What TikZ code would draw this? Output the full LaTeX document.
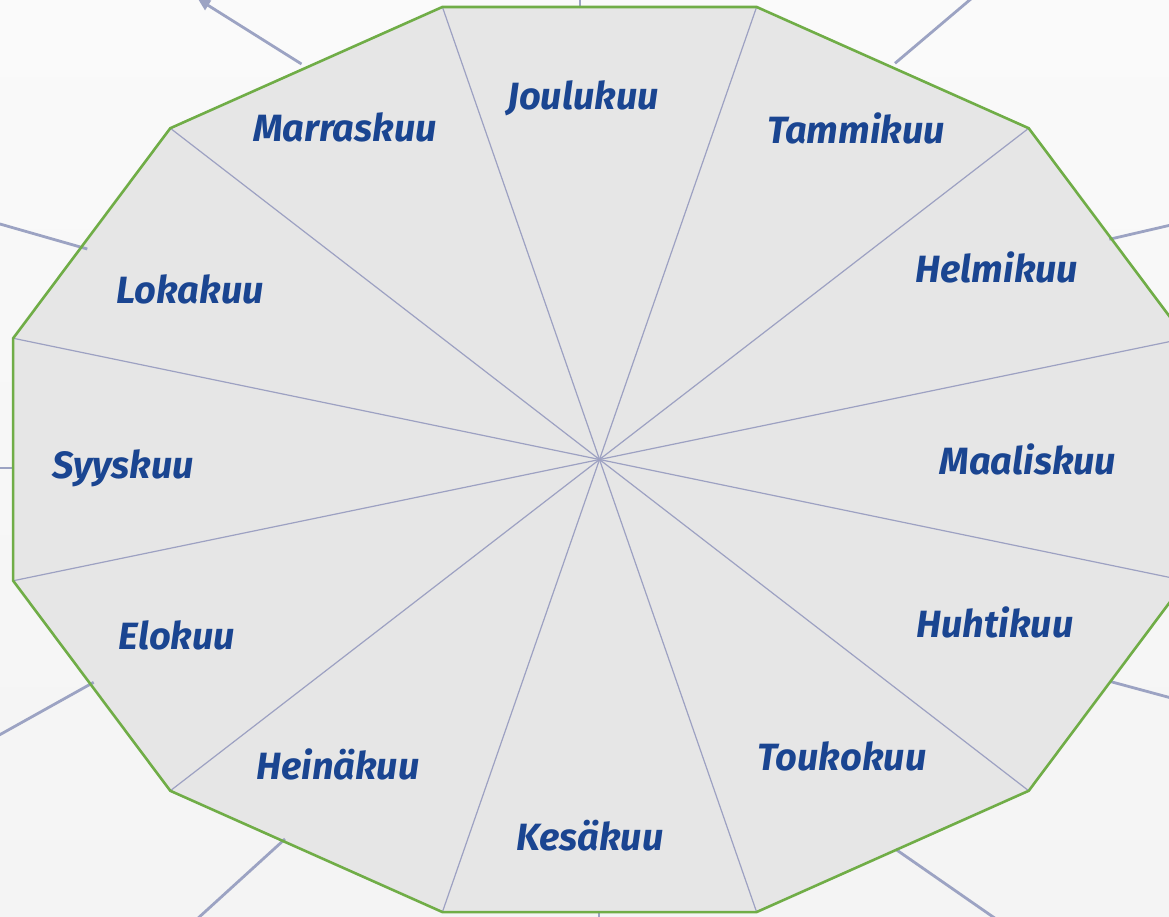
\documentclass[tikz,border=0pt]{standalone}
\usepackage{fontspec}
\setmainfont{Fira Sans}
\usetikzlibrary{arrows.meta}
\definecolor{bgtop}{HTML}{FAFAFA}
\definecolor{bgbot}{HTML}{F4F4F4}
\definecolor{segfill}{HTML}{E6E6E6}
\definecolor{rimgreen}{HTML}{70AD47}
\definecolor{spokecol}{HTML}{9DA1C2}
\definecolor{arrowcol}{HTML}{9CA3C3}
\definecolor{textblue}{HTML}{1A4591}
\tikzset{
  monthlabel/.style={text=textblue,font=\fontsize{38}{42}\selectfont\bfseries\itshape,inner sep=0pt,anchor=base},
  spokeline/.style={draw=spokecol,line width=1.2pt},
  rimline/.style={draw=rimgreen,line width=2.6pt,line join=miter},
  outarrow/.style={draw=arrowcol,line width=2.8pt,-{Triangle[length=12pt,width=11pt]}}
}
\begin{document}
\begin{tikzpicture}[x=1pt,y=-1pt]
\useasboundingbox (0,0) rectangle (1169,916);
\clip (0,0) rectangle (1169,916);
\shade[top color=bgtop,bottom color=bgbot] (0,0) rectangle (1169,916);
\coordinate (C) at (599.5,459.5);
\foreach \i in {0,...,11}{
  \coordinate (v\i) at ({599.5+607*cos(15+30*\i)},{459.5-468.5*sin(15+30*\i)});
}
\fill[segfill] (v0)--(v1)--(v2)--(v3)--(v4)--(v5)--(v6)--(v7)--(v8)--(v9)--(v10)--(v11)--cycle;
\foreach \i in {0,...,11}{
  \draw[spokeline] (C) -- (v\i);
}
% outgoing connectors
\coordinate (a1s) at (301.5,64);   \coordinate (a1e) at (198,-1);
\coordinate (a2s) at (895,63.3);   \coordinate (a2e) at (998,-24);
\coordinate (a3s) at (1109.3,239.3); \coordinate (a3e) at (1240,209);
\coordinate (a4s) at (87.3,249);   \coordinate (a4e) at (-42,212);
\coordinate (a5s) at (93.7,682.3); \coordinate (a5e) at (-24,748);
\coordinate (a6s) at (285,839);    \coordinate (a6e) at (185,930);
\coordinate (a7s) at (895.7,849.3); \coordinate (a7e) at (1027,940.5);
\coordinate (a8s) at (1111,681.7); \coordinate (a8e) at (1241,716.8);
\coordinate (a9s) at (580,8);      \coordinate (a9e) at (580,-120);
\coordinate (a10s) at (599,911);   \coordinate (a10e) at (599,1040);
\coordinate (a11s) at (14,468);    \coordinate (a11e) at (-120,468);
\foreach \k in {1,...,11}{
  \draw[outarrow] (a\k s) -- (a\k e);
}
\draw[rimline] (v0)--(v1)--(v2)--(v3)--(v4)--(v5)--(v6)--(v7)--(v8)--(v9)--(v10)--(v11)--cycle;
% month labels
\node[monthlabel] (m12) at (583,109) {Joulukuu};
\node[monthlabel] (m1)  at (856,143) {Tammikuu};
\node[monthlabel] (m2)  at (997,282) {Helmikuu};
\node[monthlabel] (m3)  at (1028,474) {Maaliskuu};
\node[monthlabel] (m4)  at (995,637) {Huhtikuu};
\node[monthlabel] (m5)  at (842,770) {Toukokuu};
\node[monthlabel] (m6)  at (590,850) {Kesäkuu};
\node[monthlabel] (m7)  at (338,779) {Heinäkuu};
\node[monthlabel] (m8)  at (177,649) {Elokuu};
\node[monthlabel] (m9)  at (123,478) {Syyskuu};
\node[monthlabel] (m10) at (190,303) {Lokakuu};
\node[monthlabel] (m11) at (345,141) {Marraskuu};
\end{tikzpicture}
\end{document}
